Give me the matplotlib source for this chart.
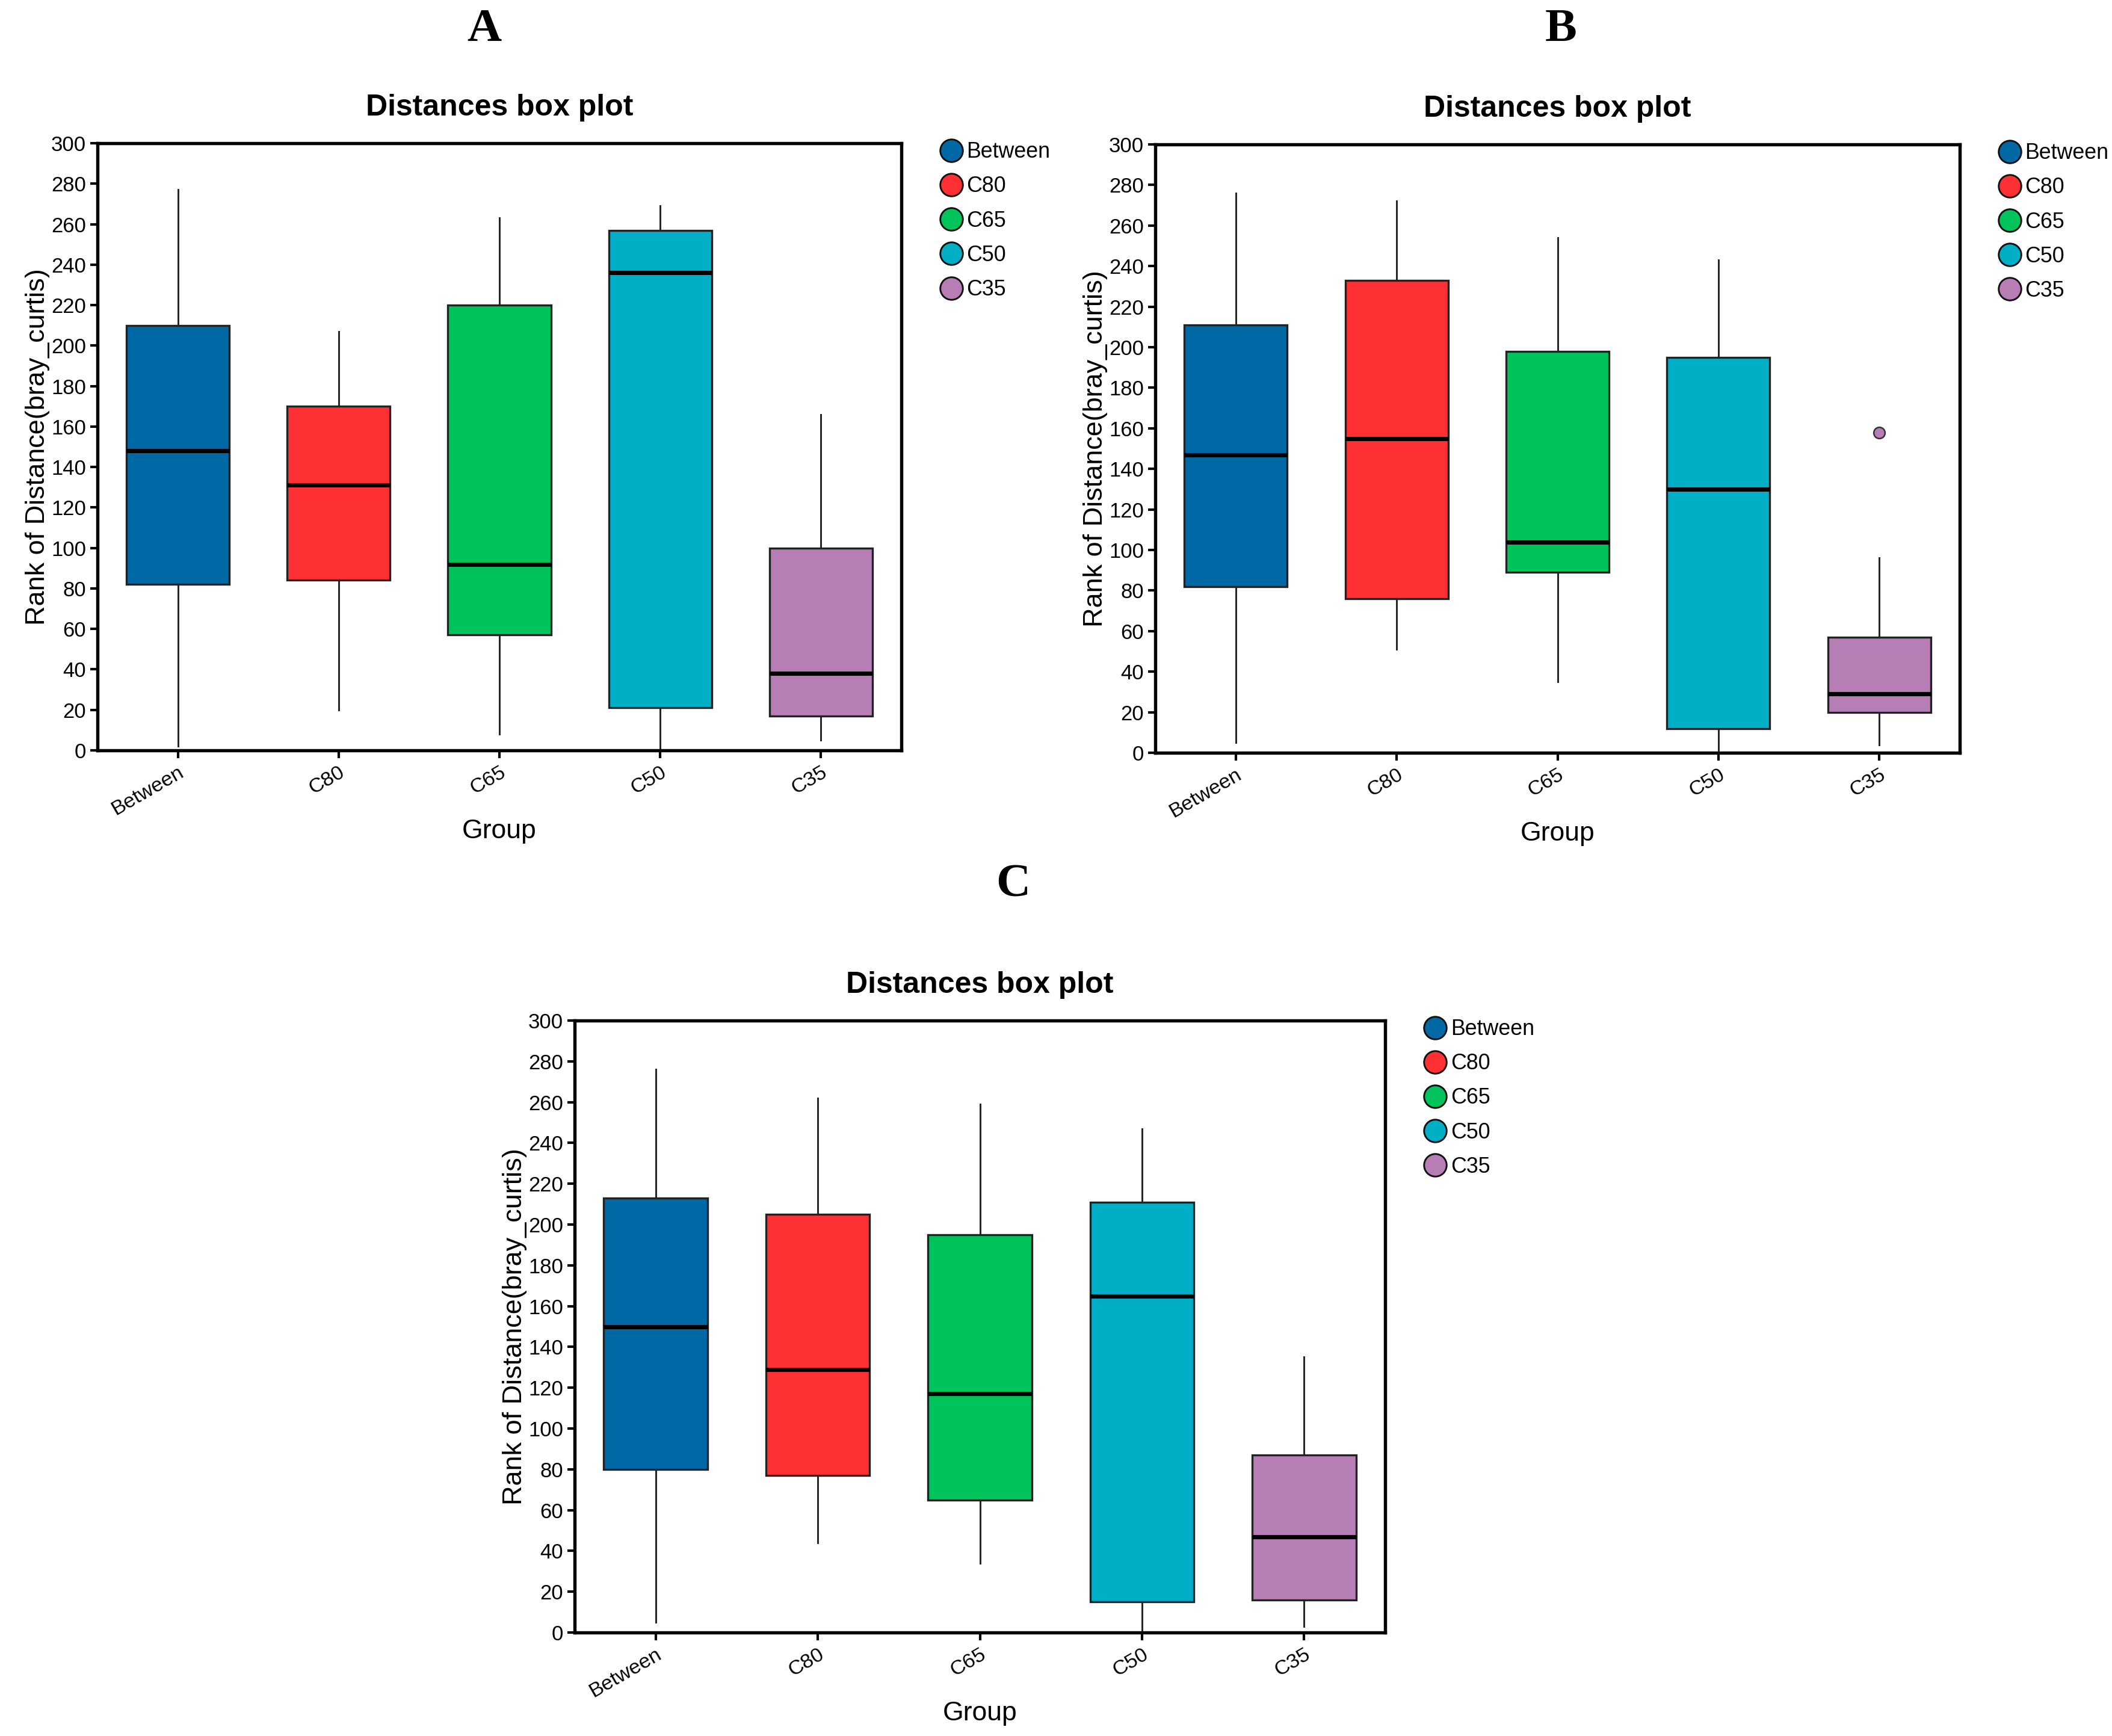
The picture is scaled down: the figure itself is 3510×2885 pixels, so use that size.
import matplotlib
matplotlib.use('Agg')
import matplotlib.pyplot as plt
from matplotlib.lines import Line2D

plt.rcParams['font.family'] = ['Liberation Sans', 'DejaVu Sans']

groups = ['Between', 'C80', 'C65', 'C50', 'C35']
colors = ['#0068A5', '#FF3033', '#00C35C', '#00AEC6', '#B77EB5']

# panel A: whisker low, q1, median, q3, whisker high
a_low = [2, 20, 8, 1, 5]
a_q1 = [82, 84, 57, 21, 17]
a_med = [148, 131, 92, 236, 38]
a_q3 = [210, 170, 220, 257, 100]
a_high = [277, 207, 263, 269, 166]
a_out = [[], [], [], [], []]

# panel B
b_low = [5, 51, 35, 1, 4]
b_q1 = [82, 76, 89, 12, 20]
b_med = [147, 155, 104, 130, 29]
b_q3 = [211, 233, 198, 195, 57]
b_high = [276, 272, 254, 243, 96]
b_out = [[], [], [], [], [158]]

# panel C
c_low = [5, 44, 34, 1, 3]
c_q1 = [80, 77, 65, 15, 16]
c_med = [150, 129, 117, 165, 47]
c_q3 = [213, 205, 195, 211, 87]
c_high = [276, 262, 259, 247, 135]
c_out = [[], [], [], [], []]

W, H = 3510, 2885
fig = plt.figure(figsize=(W / 300, H / 300), dpi=300)


def panel(rect, letter, letter_xy, low, q1, med, q3, high, out):
    ax = fig.add_axes(rect)
    stats = []
    for i in range(len(groups)):
        stats.append({'whislo': low[i], 'q1': q1[i], 'med': med[i], 'q3': q3[i],
                      'whishi': high[i], 'fliers': out[i], 'label': groups[i]})
    bp = ax.bxp(stats, positions=range(1, 6), widths=0.64, patch_artist=True,
                showcaps=False,
                boxprops=dict(linewidth=0.8, edgecolor='#222222'),
                whiskerprops=dict(linewidth=0.7, color='#222222'),
                medianprops=dict(linewidth=1.7, color='black'),
                flierprops=dict(marker='o', markersize=4.5, markeredgewidth=0.6,
                                markeredgecolor='#333333'))
    for patch, c in zip(bp['boxes'], colors):
        patch.set_facecolor(c)
    for fl, c in zip(bp['fliers'], colors):
        fl.set_markerfacecolor(c)

    ax.set_xlim(0.5, 5.5)
    ax.set_ylim(0, 300)
    ax.set_yticks(range(0, 301, 20))
    ax.set_xticks(range(1, 6))
    ax.set_xticklabels(groups, rotation=30, ha='right', fontsize=8.2,
                       rotation_mode='anchor')
    ax.tick_params(axis='y', labelsize=8.3, length=3, width=1, pad=1.5)
    ax.tick_params(axis='x', length=3, width=1, pad=2)
    for s in ax.spines.values():
        s.set_linewidth(1.3)
    ax.set_title('Distances box plot', fontsize=12, fontweight='bold', pad=11)
    ax.set_xlabel('Group', fontsize=10.7, labelpad=0)
    ax.set_ylabel('Rank of Distance(bray_curtis)', fontsize=10.8, labelpad=0.5)

    handles = [Line2D([], [], linestyle='none', marker='o', markersize=9,
                      markerfacecolor=c, markeredgecolor='#111111',
                      markeredgewidth=0.7) for c in colors]
    ax.legend(handles, groups, loc='upper left', bbox_to_anchor=(1.035, 1.017),
              frameon=False, fontsize=8.6, handletextpad=0.12, labelspacing=0.62,
              handlelength=1.2, borderaxespad=0)

    fig.text(letter_xy[0] / W, 1 - letter_xy[1] / H, letter, fontsize=19,
             fontweight='bold', family=['Liberation Serif', 'DejaVu Serif'],
             ha='center', va='center')
    return ax


panel([162 / W, 1 - 1247 / H, 1336 / W, 1009 / H], 'A', (805, 49),
      a_low, a_q1, a_med, a_q3, a_high, a_out)
panel([1920 / W, 1 - 1251 / H, 1337 / W, 1011 / H], 'B', (2594, 49),
      b_low, b_q1, b_med, b_q3, b_high, b_out)
panel([955 / W, 1 - 2713 / H, 1347 / W, 1017 / H], 'C', (1684, 1471),
      c_low, c_q1, c_med, c_q3, c_high, c_out)

fig.savefig('out.png', dpi=300, facecolor='white')
